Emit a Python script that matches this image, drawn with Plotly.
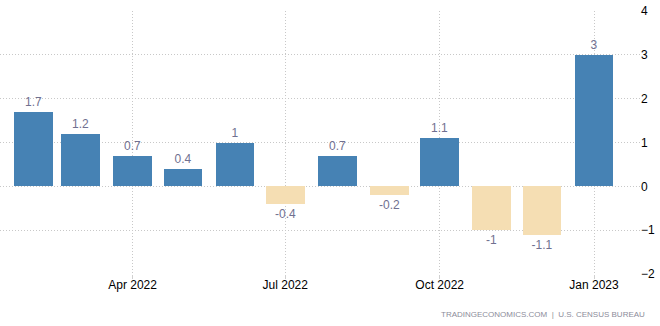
import plotly.graph_objects as go

months = ["2022-02-01", "2022-03-01", "2022-04-01", "2022-05-01", "2022-06-01", "2022-07-01",
          "2022-08-01", "2022-09-01", "2022-10-01", "2022-11-01", "2022-12-01", "2023-01-01"]
values = [1.7, 1.2, 0.7, 0.4, 1, -0.4, 0.7, -0.2, 1.1, -1, -1.1, 3]
labels = ["1.7", "1.2", "0.7", "0.4", "1", "-0.4", "0.7", "-0.2", "1.1", "-1", "-1.1", "3"]
tick_dates = ["2022-04-01", "2022-07-01", "2022-10-01", "2023-01-01"]
tick_text = ["Apr 2022", "Jul 2022", "Oct 2022", "Jan 2023"]
y_ticks = [-2, -1, 0, 1, 2, 3, 4]

POS = "#4682B4"
NEG = "#F5DEB3"
colors = [POS if v >= 0 else NEG for v in values]

DAY = 86400000
fig = go.Figure()
fig.add_trace(go.Bar(
    x=months, y=values, width=[23 * DAY] * len(values),
    marker=dict(color=colors, line=dict(width=0)),
    text=labels, textposition="outside", cliponaxis=False,
    textfont=dict(family="Liberation Sans", size=12, color="#707090"),
    hoverinfo="x+y",
))

fig.update_layout(
    width=660, height=326,
    margin=dict(l=0, r=19, t=11, b=52),
    paper_bgcolor="white", plot_bgcolor="white",
    showlegend=False, bargap=0,
    font=dict(family="Liberation Sans", size=12, color="#000000"),
    xaxis=dict(
        type="date", range=["2022-01-12", "2023-01-29"],
        tickvals=tick_dates, ticktext=tick_text,
        showgrid=True, gridcolor="#c8c8c8", griddash="1px,2px", gridwidth=1,
        ticks="outside", ticklen=4, tickcolor="#d0d0d0",
        ticklabelstandoff=-4,
        showline=False, zeroline=False,
        tickfont=dict(family="Liberation Sans", size=12, color="#000000"),
    ),
    yaxis=dict(
        side="right", range=[-2, 4], tickvals=y_ticks,
        showgrid=True, gridcolor="#c8c8c8", griddash="1px,2px", gridwidth=1,
        zeroline=False, showline=False, ticks="",
        ticklabelstandoff=-1,
        tickfont=dict(family="Liberation Sans", size=12, color="#000000"),
    ),
    annotations=[dict(
        text="TRADINGECONOMICS.COM  |  U.S. CENSUS BUREAU",
        xref="paper", yref="paper", x=1.009, y=-0.155,
        xanchor="right", yanchor="middle", showarrow=False,
        font=dict(family="Liberation Sans", size=8, color="#8c8c9a"),
    )],
)

fig.write_html("out.html")
